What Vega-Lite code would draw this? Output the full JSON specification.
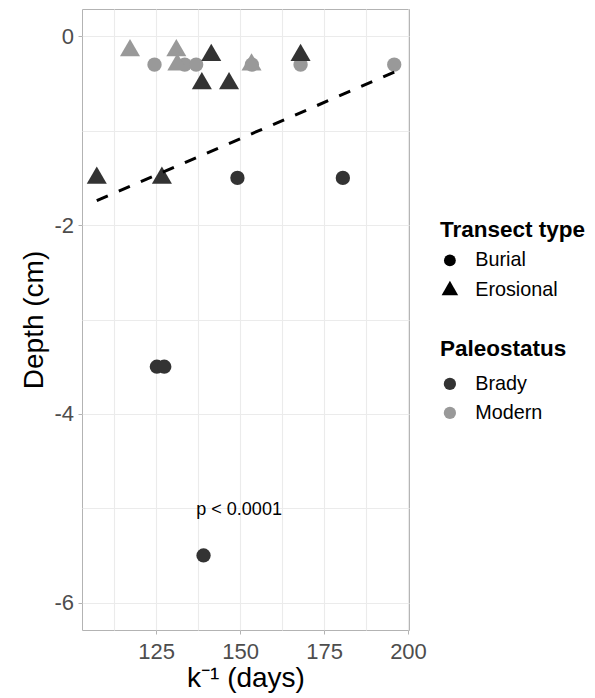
{
  "$schema": "https://vega.github.io/schema/vega-lite/v6.json",
  "width": 327,
  "height": 621,
  "autosize": {"type": "none"},
  "padding": {"left": 82, "top": 9, "right": 186, "bottom": 68},
  "background": "white",
  "config": {
    "view": {"stroke": "#b3b3b3", "strokeWidth": 1, "fill": "white"},
    "font": "Liberation Sans",
    "axis": {"gridColor": "#ebebeb", "gridWidth": 1.1, "domain": false, "labelFont": "Liberation Sans", "titleFont": "Liberation Sans", "labelOverlap": false, "labelFlush": false},
    "legend": {"labelFont": "Liberation Sans", "titleFont": "Liberation Sans"}
  },
  "data": {
    "values": [
      {"k": 124.5, "depth": -0.3, "type": "Burial", "status": "Modern"},
      {"k": 133.5, "depth": -0.3, "type": "Burial", "status": "Modern"},
      {"k": 136.9, "depth": -0.3, "type": "Burial", "status": "Modern"},
      {"k": 153.5, "depth": -0.3, "type": "Burial", "status": "Modern"},
      {"k": 168.0, "depth": -0.3, "type": "Burial", "status": "Modern"},
      {"k": 195.9, "depth": -0.3, "type": "Burial", "status": "Modern"},
      {"k": 149.2, "depth": -1.5, "type": "Burial", "status": "Brady"},
      {"k": 180.6, "depth": -1.5, "type": "Burial", "status": "Brady"},
      {"k": 125.2, "depth": -3.5, "type": "Burial", "status": "Brady"},
      {"k": 127.4, "depth": -3.5, "type": "Burial", "status": "Brady"},
      {"k": 139.1, "depth": -5.5, "type": "Burial", "status": "Brady"},
      {"k": 117.2, "depth": -0.15, "type": "Erosional", "status": "Modern"},
      {"k": 131.0, "depth": -0.15, "type": "Erosional", "status": "Modern"},
      {"k": 131.3, "depth": -0.3, "type": "Erosional", "status": "Modern"},
      {"k": 153.4, "depth": -0.3, "type": "Erosional", "status": "Modern"},
      {"k": 141.4, "depth": -0.2, "type": "Erosional", "status": "Brady"},
      {"k": 168.0, "depth": -0.2, "type": "Erosional", "status": "Brady"},
      {"k": 138.6, "depth": -0.5, "type": "Erosional", "status": "Brady"},
      {"k": 146.7, "depth": -0.5, "type": "Erosional", "status": "Brady"},
      {"k": 107.3, "depth": -1.5, "type": "Erosional", "status": "Brady"},
      {"k": 126.7, "depth": -1.5, "type": "Erosional", "status": "Brady"}
    ]
  },
  "encoding": {
    "x": {
      "field": "k", "type": "quantitative",
      "scale": {"domain": [102.9, 200.3], "nice": false, "zero": false},
      "axis": {
        "values": [112.5, 125, 137.5, 150, 162.5, 175, 187.5, 200],
        "labelExpr": "datum.value % 25 === 0 ? toString(datum.value) : ''",
        "tickOpacity": {"condition": {"test": "datum.value % 25 !== 0", "value": 0}, "value": 1},
        "title": "k⁻¹ (days)",
        "labelFontSize": 22, "labelColor": "#4d4d4d",
        "tickColor": "#b3b3b3", "tickSize": 4, "tickWidth": 1,
        "labelPadding": 7.5,
        "titleFontSize": 28, "titleFontWeight": "normal", "titleColor": "black", "titlePadding": 2
      }
    },
    "y": {
      "field": "depth", "type": "quantitative",
      "scale": {"domain": [-6.29, 0.29], "nice": false, "zero": false},
      "axis": {
        "values": [-6, -5, -4, -3, -2, -1, 0],
        "labelExpr": "datum.value % 2 === 0 ? toString(datum.value) : ''",
        "tickOpacity": {"condition": {"test": "datum.value % 2 !== 0", "value": 0}, "value": 1},
        "title": "Depth (cm)",
        "labelFontSize": 22, "labelColor": "#4d4d4d",
        "tickColor": "#b3b3b3", "tickSize": 4, "tickWidth": 1,
        "labelPadding": 4.5,
        "titleFontSize": 28, "titleFontWeight": "normal", "titleColor": "black", "titlePadding": 5
      }
    }
  },
  "layer": [
    {
      "mark": {"type": "point", "filled": true, "opacity": 1, "size": 205, "strokeWidth": 0},
      "encoding": {
        "shape": {
          "field": "type", "type": "nominal",
          "scale": {"domain": ["Burial", "Erosional"], "range": ["circle", "M0,-1.61L1.4,0.81L-1.4,0.81Z"]},
          "legend": {
            "title": "Transect type", "orient": "none", "legendX": 358, "legendY": 210,
            "padding": 0, "titleFontSize": 22.5, "titleFontWeight": "bold", "titleColor": "black", "titlePadding": 9,
            "labelFontSize": 19.8, "labelColor": "black", "symbolSize": 140, "symbolOffset": 0, "labelOffset": 15.4, "rowPadding": 7,
            "encode": {"symbols": {"update": {"fill": {"value": "black"}, "stroke": {"value": "transparent"}, "opacity": {"value": 1}}}}
          }
        },
        "color": {
          "field": "status", "type": "nominal",
          "scale": {"domain": ["Brady", "Modern"], "range": ["#333333", "#999999"]},
          "legend": {
            "title": "Paleostatus", "orient": "none", "legendX": 358, "legendY": 328.5,
            "padding": 0, "titleFontSize": 22.5, "titleFontWeight": "bold", "titleColor": "black", "titlePadding": 14,
            "labelFontSize": 19.8, "labelColor": "black", "symbolSize": 150, "symbolType": "circle", "symbolOffset": 0, "labelOffset": 15.4, "rowPadding": 8,
            "symbolStrokeWidth": 0, "symbolOpacity": 1
          }
        }
      }
    },
    {
      "data": {"values": [{"k": 107.3, "depth": -1.74}, {"k": 195.9, "depth": -0.38}]},
      "mark": {"type": "line", "color": "black", "strokeWidth": 3, "strokeDash": [12, 12]},
      "encoding": {}
    },
    {
      "data": {"values": [{"k": 149.7, "depth": -5.02, "label": "p < 0.0001"}]},
      "mark": {"type": "text", "fontSize": 18, "color": "black", "align": "center", "baseline": "middle", "font": "Liberation Sans"},
      "encoding": {"text": {"field": "label", "type": "nominal"}}
    }
  ]
}
